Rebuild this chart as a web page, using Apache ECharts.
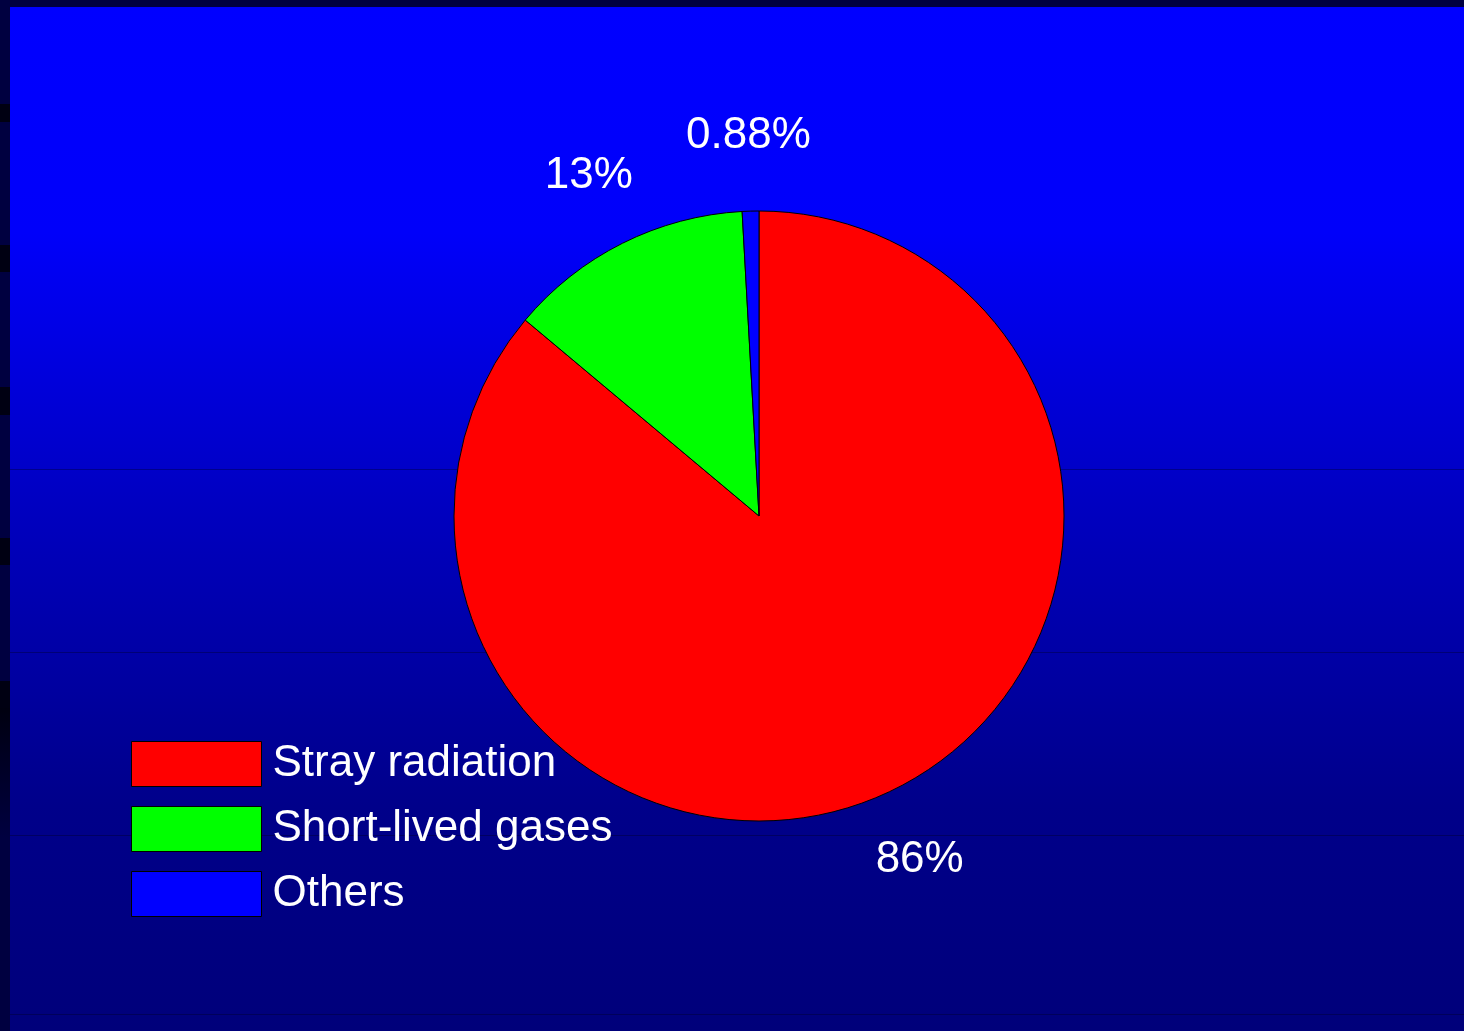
<!DOCTYPE html>
<html>
<head>
<meta charset="utf-8">
<title>Dose contributions</title>
<script src="https://cdn.jsdelivr.net/npm/echarts@6/dist/echarts.min.js"></script>
<style>
  html, body { margin: 0; padding: 0; background: #000040; }
  #chart { width: 1464px; height: 1031px; }
</style>
</head>
<body>
<div id="chart"></div>
<script>
// Contributions to the dose, in percent
const categories = ['Stray radiation', 'Short-lived gases', 'Others'];
const shares = [86, 13, 0.88];
const sliceColors = ['#FF0000', '#00FF00', '#0000FF'];

const FONT = '"Liberation Sans Narrow", "Arial Narrow", "Liberation Sans", Arial, sans-serif';

const chart = echarts.init(document.getElementById('chart'), null, { renderer: 'canvas' });

const W = 1464, H = 1031;

// slide-style frame: dark edge strip, then a vertical blue gradient
const frame = [
  { type: 'rect', shape: { x: 0, y: 0, width: W, height: H }, style: { fill: '#000040' }, z: -10 },
  {
    type: 'rect', shape: { x: 10, y: 7, width: W - 10, height: H - 7 }, z: -9,
    style: {
      fill: new echarts.graphic.LinearGradient(0, 0, 0, 1, [
        { offset: 0, color: '#0000FF' },
        { offset: 0.22, color: '#0000FA' },
        { offset: 0.5, color: '#0000BE' },
        { offset: 0.78, color: '#00008A' },
        { offset: 1, color: '#00007A' }
      ])
    }
  }
];
// darker blocks along the left edge strip
[[104, 18], [245, 27], [387, 28], [538, 27], [681, 27]].forEach(([y, h]) => {
  frame.push({ type: 'rect', shape: { x: 0, y: y, width: 10, height: h }, style: { fill: '#000012' }, z: -8 });
});
frame.push({
  type: 'rect', shape: { x: 0, y: 708, width: 10, height: 130 }, z: -8,
  style: {
    fill: new echarts.graphic.LinearGradient(0, 0, 0, 1, [
      { offset: 0, color: '#000010' },
      { offset: 1, color: '#000040' }
    ])
  }
});
// faint seams between gradient bands
[469, 652, 835, 1014].forEach((y) => {
  frame.push({
    type: 'line', shape: { x1: 10, y1: y + 0.5, x2: W, y2: y + 0.5 }, z: -7,
    style: { stroke: 'rgba(0,0,30,0.35)', lineWidth: 1 }
  });
});

const sliceData = categories.map((name, i) => ({
  name: name,
  value: shares[i],
  itemStyle: { color: sliceColors[i] }
}));

// transparent ring outside the pie that carries the percentage labels
const labelRing = categories.map((name, i) => ({
  name: name,
  value: shares[i],
  itemStyle: { color: 'rgba(0,0,0,0)', borderWidth: 0 }
}));

chart.setOption({
  animation: false,
  backgroundColor: '#000040',
  graphic: { elements: frame },
  legend: {
    orient: 'vertical',
    left: 131,
    top: 741,
    itemWidth: 130,
    itemHeight: 45,
    itemGap: 19,
    icon: 'rect',
    data: categories,
    selectedMode: false,
    padding: 0,
    textStyle: { color: '#FFFFFF', fontSize: 44, lineHeight: 45, fontFamily: FONT, padding: [0, 0, 0, 6] },
    itemStyle: { borderColor: '#000000', borderWidth: 1 }
  },
  series: [
    {
      type: 'pie',
      center: [759, 516],
      radius: [0, 305],
      startAngle: 90,
      clockwise: true,
      silent: true,
      label: { show: false },
      labelLine: { show: false },
      itemStyle: { borderColor: '#000000', borderWidth: 1 },
      emphasis: { disabled: true },
      data: sliceData
    },
    {
      type: 'pie',
      center: [759, 516],
      radius: [357, 397],
      startAngle: 90,
      clockwise: true,
      silent: true,
      legendHoverLink: false,
      z: 3,
      label: {
        show: true,
        position: 'inside',
        formatter: (p) => p.value + '%',
        color: '#FFFFFF',
        fontSize: 44,
        fontFamily: FONT
      },
      labelLine: { show: false },
      emphasis: { disabled: true },
      data: labelRing
    }
  ]
});
</script>
</body>
</html>
